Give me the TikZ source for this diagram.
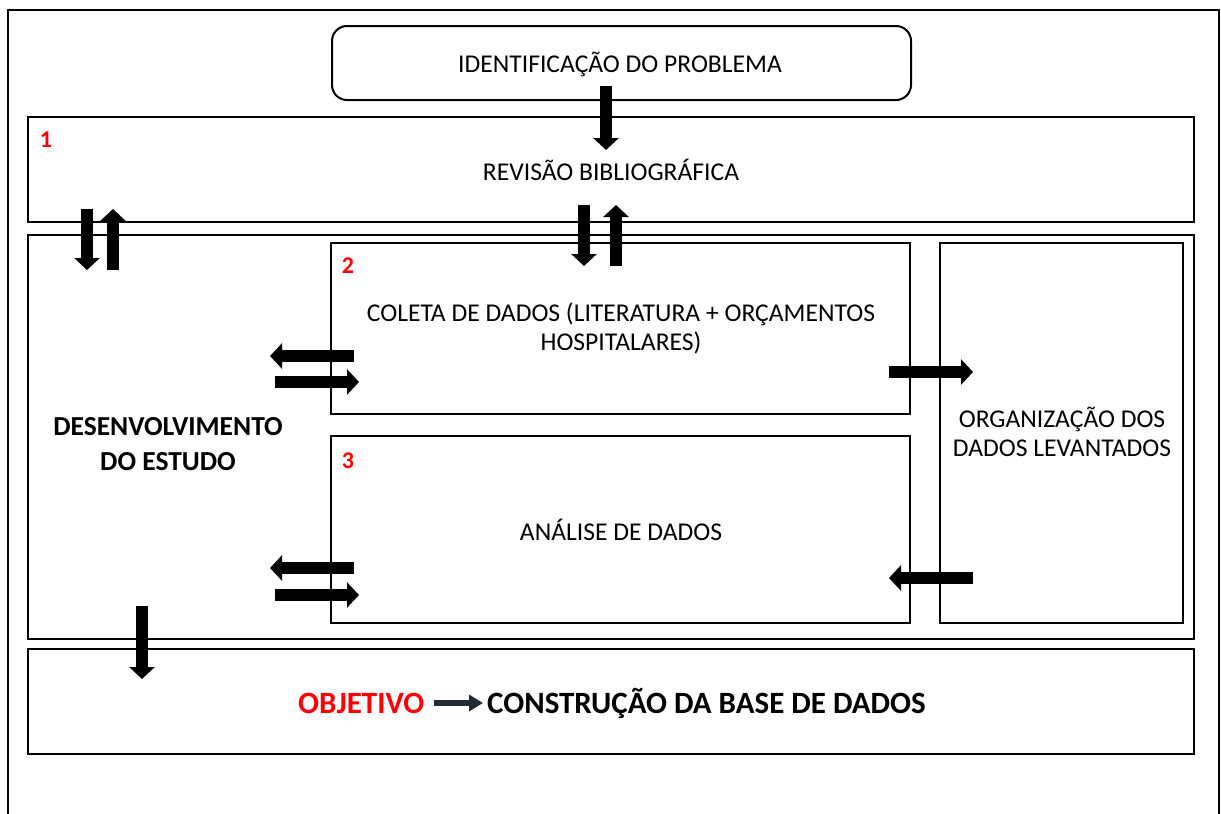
\documentclass[tikz,border=0pt]{standalone}
\usepackage{fontspec}
\setmainfont{Carlito}
\usetikzlibrary{arrows.meta}
\definecolor{objred}{HTML}{FF0000}
\definecolor{darkarrow}{HTML}{222A35}
\begin{document}
\begin{tikzpicture}[x=1pt,y=-1pt,
  box/.style={draw, line width=2pt, anchor=north west, inner sep=0pt, outer sep=0pt},
  barrow/.style={line width=11.5pt, -{Triangle[width=25pt,length=12pt]}},
  txt/.style={font=\fontsize{25.6}{29}\selectfont, align=center, inner sep=0pt},
  btxt/.style={font=\fontsize{27.5}{35}\selectfont\bfseries, align=center, inner sep=0pt},
  num/.style={font=\fontsize{24}{26}\selectfont\bfseries, text=objred, inner sep=0pt}
]
\useasboundingbox (0,0) rectangle (1221,814);
\fill[white] (0,0) rectangle (1221,814);
\draw[line width=2pt] (8,830) -- (8,10) -- (1219,10) -- (1219,830);

% boxes
\node[box, rounded corners=15pt, minimum width=579pt, minimum height=74pt] (ident) at (332,26) {};
\node[box, minimum width=1166pt, minimum height=105pt] (rev) at (28,117) {};
\node[box, minimum width=1166pt, minimum height=404pt] (dev) at (28,235) {};
\node[box, minimum width=579pt, minimum height=171pt] (col) at (331,243) {};
\node[box, minimum width=579pt, minimum height=187pt] (ana) at (331,436) {};
\node[box, minimum width=243pt, minimum height=380pt] (org) at (940,243) {};
\node[box, minimum width=1166pt, minimum height=105pt] (obj) at (28,649) {};

% texts
\node[txt] (identtxt) at (620,64) {IDENTIFICAÇÃO DO PROBLEMA};
\node[txt] (revtxt) at (611,170) {REVISÃO BIBLIOGRÁFICA};
\node[num] (n1) at (46,140) {1};
\node[num] (n2) at (348,266) {2};
\node[num] (n3) at (348,461) {3};
\node[txt] (coltxt) at (621,328) {COLETA DE DADOS (LITERATURA + ORÇAMENTOS\\HOSPITALARES)};
\node[txt] (anatxt) at (621,530) {ANÁLISE DE DADOS};
\node[txt] (orgtxt) at (1062,432) {ORGANIZAÇÃO DOS\\DADOS LEVANTADOS};
\node[btxt] (devtxt) at (168,444) {DESENVOLVIMENTO\\DO ESTUDO};
\node[font=\fontsize{31}{34}\selectfont\bfseries, text=objred, inner sep=0pt, anchor=west] (objword) at (298,703) {OBJETIVO};
\node[font=\fontsize{31}{34}\selectfont\bfseries, inner sep=0pt, anchor=west] (base) at (487,703) {CONSTRUÇÃO DA BASE DE DADOS};
\coordinate (oa) at (434,703);
\coordinate (ob) at (483,703);
\draw[line width=6pt, darkarrow, -{Triangle[width=16pt,length=14pt]}] (oa) -- (ob);

% arrows
\coordinate (a1s) at (606,86); \coordinate (a1e) at (606,150);
\draw[barrow] (a1s) -- (a1e);
\coordinate (l1s) at (87,209); \coordinate (l1e) at (87,270);
\draw[barrow] (l1s) -- (l1e);
\coordinate (l2s) at (113,270); \coordinate (l2e) at (113,209);
\draw[barrow] (l2s) -- (l2e);
\coordinate (m1s) at (584,205); \coordinate (m1e) at (584,266);
\draw[barrow] (m1s) -- (m1e);
\coordinate (m2s) at (616,266); \coordinate (m2e) at (616,205);
\draw[barrow] (m2s) -- (m2e);
\coordinate (h1s) at (354,356); \coordinate (h1e) at (270,356);
\draw[barrow] (h1s) -- (h1e);
\coordinate (h2s) at (275,382); \coordinate (h2e) at (359,382);
\draw[barrow] (h2s) -- (h2e);
\coordinate (h3s) at (354,568); \coordinate (h3e) at (270,568);
\draw[barrow] (h3s) -- (h3e);
\coordinate (h4s) at (275,595); \coordinate (h4e) at (359,595);
\draw[barrow] (h4s) -- (h4e);
\coordinate (r1s) at (889,372); \coordinate (r1e) at (973,372);
\draw[barrow] (r1s) -- (r1e);
\coordinate (r2s) at (973,578); \coordinate (r2e) at (889,578);
\draw[barrow] (r2s) -- (r2e);
\coordinate (d1s) at (142,606); \coordinate (d1e) at (142,679);
\draw[barrow] (d1s) -- (d1e);
\end{tikzpicture}
\end{document}
